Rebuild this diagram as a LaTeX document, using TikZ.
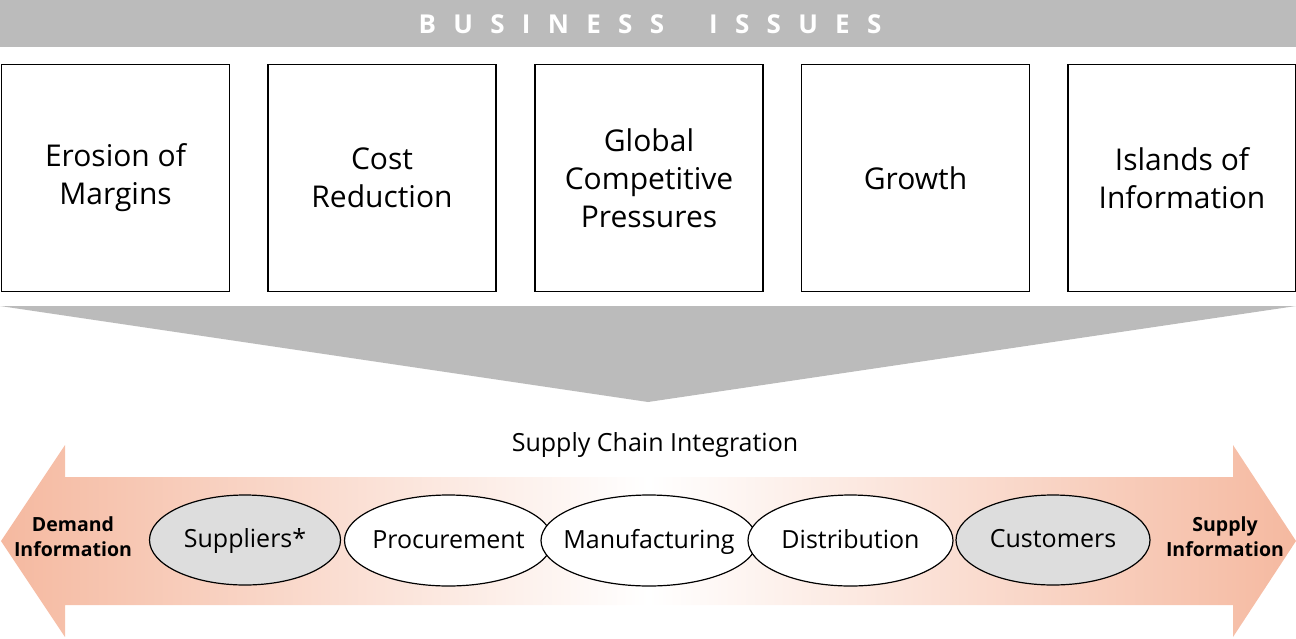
\documentclass[tikz,border=0pt]{standalone}
\usepackage{fontspec}
\setmainfont{Open Sans}
\usetikzlibrary{shapes.geometric}
\newcommand{\lsp}{\hspace{17.3pt}}
\definecolor{bannergray}{RGB}{187,187,187}
\definecolor{ellgray}{RGB}{221,221,221}
\definecolor{salmon}{RGB}{245,185,160}
\begin{document}
\begin{tikzpicture}[x=1pt,y=-1pt,
  issuebox/.style={draw=black,line width=1.4pt,fill=white,minimum width=228pt,minimum height=227pt,inner sep=0pt,align=center,font=\fontsize{30}{38}\selectfont},
  chainell/.style={draw=black,line width=1.2pt,ellipse,inner xsep=-60pt,inner ysep=-10pt,text height=20pt,text depth=5pt,font=\fontsize{25}{30}\selectfont},
  sidelabel/.style={align=center,font=\bfseries\fontsize{19.5}{25}\selectfont}
]
\useasboundingbox (0,0) rectangle (1296,638);
% banner
\fill[bannergray] (0,0) rectangle (1296,47);
\node[text=white,font=\bfseries\fontsize{26}{30}\selectfont] (banner) at (650,24) {B\lsp U\lsp S\lsp I\lsp N\lsp E\lsp S\lsp S\hspace{45pt}I\lsp S\lsp S\lsp U\lsp E\lsp S};
% boxes
\node[issuebox] (b1) at (115.5,178) {Erosion of\\Margins};
\node[issuebox] (b2) at (382,178) {Cost\\Reduction};
\node[issuebox] (b3) at (649,178) {Global\\Competitive\\Pressures};
\node[issuebox] (b4) at (915.5,178) {Growth};
\node[issuebox] (b5) at (1182,178) {Islands of\\Information};
% funnel
\fill[bannergray] (0,306) -- (1296,306) -- (648,402) -- cycle;
% title
\node[font=\fontsize{25}{30}\selectfont] (sci) at (655,445) {Supply Chain Integration};
% double arrow
\path[left color=salmon,right color=salmon,middle color=white]
  (1,541) -- (65,445) -- (65,477) -- (1233,477) -- (1233,445) -- (1296,541)
  -- (1233,637) -- (1233,605) -- (65,605) -- (65,637) -- cycle;
% ellipses
\node[chainell,fill=ellgray,minimum width=191pt,minimum height=90pt] (sup) at (245,540) {Suppliers*};
\node[chainell,fill=white,minimum width=208pt,minimum height=91pt] (proc) at (448.5,540.5) {Procurement};
\node[chainell,fill=white,minimum width=216pt,minimum height=91pt] (man) at (649,540.5) {Manufacturing};
\node[chainell,fill=white,minimum width=205pt,minimum height=91pt] (dist) at (850.5,540.5) {Distribution};
\node[chainell,fill=ellgray,minimum width=194pt,minimum height=90pt] (cust) at (1053,540) {Customers};
\node[sidelabel] (dem) at (73,537) {Demand\\Information};
\node[sidelabel] (supinfo) at (1225,537) {Supply\\Information};
\end{tikzpicture}
\end{document}
